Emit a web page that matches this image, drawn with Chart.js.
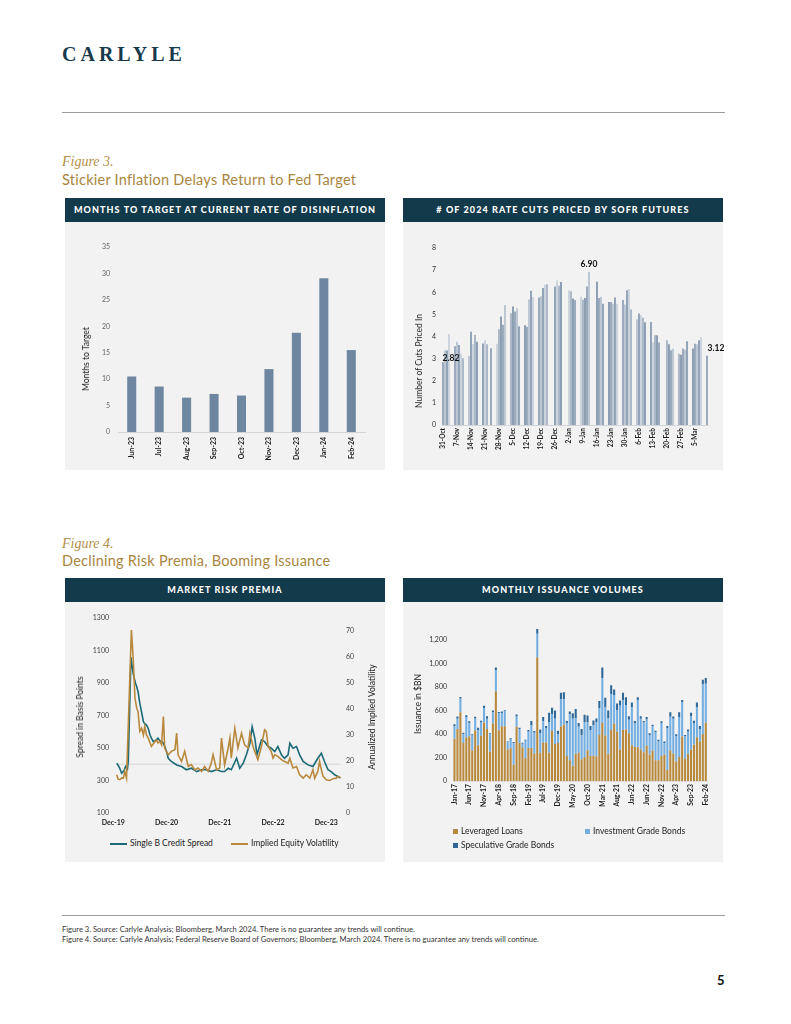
<!DOCTYPE html>
<html>
<head>
<meta charset="utf-8">
<script src="https://cdn.jsdelivr.net/npm/chart.js@4.4.1/dist/chart.umd.min.js"></script>
<style>
  body { margin: 0; background: #fff; font-family: Lato, sans-serif; }
  #page { position: relative; width: 791px; height: 1024px; overflow: hidden; }
  .abs { position: absolute; white-space: nowrap; }
  .logo { left: 62px; top: 44px; font-family: 'Liberation Serif', serif; font-weight: bold; font-size: 20px; line-height: 20px; letter-spacing: 4px; color: #173a4d; }
  .rule { left: 62px; width: 663px; height: 1px; background: #9c9c9c; }
  .fig { left: 62px; font-family: 'Liberation Serif', serif; font-style: italic; font-size: 14px; line-height: 14px; color: #b39048; }
  .figtitle { left: 62px; font-size: 14.5px; line-height: 15px; letter-spacing: 0.25px; color: #a9853e; }
  .panel { background: #f2f2f2; }
  .head { background: #123a4b; color: #fff; font-weight: 900; font-size: 9px; letter-spacing: 1.1px; text-align: center; line-height: 24px; height: 24px; }
  .ytitle { transform: translate(-50%, -50%) rotate(-90deg); font-size: 8.5px; color: #222; }
  .leg { font-size: 8.5px; color: #222; line-height: 10px; }
  .sw { display: inline-block; vertical-align: middle; margin-right: 3px; }
  canvas { position: absolute; }
  .note { left: 62px; font-size: 7.6px; color: #333; line-height: 9px; }
</style>
</head>
<body>
<div id="page">
  <div class="abs logo">CARLYLE</div>
  <div class="abs rule" style="top:112px"></div>

  <div class="abs fig" style="top:155px">Figure 3.</div>
  <div class="abs figtitle" style="top:172px">Stickier Inflation Delays Return to Fed Target</div>

  <div class="abs head" style="left:65px;top:198px;width:320px">MONTHS TO TARGET AT CURRENT RATE OF DISINFLATION</div>
  <div class="abs panel" style="left:65px;top:222px;width:320px;height:248px"></div>
  <div class="abs head" style="left:403px;top:198px;width:320px"># OF 2024 RATE CUTS PRICED BY SOFR FUTURES</div>
  <div class="abs panel" style="left:403px;top:222px;width:320px;height:248px"></div>

  <canvas id="c1" width="305" height="238" style="left:70px;top:230px;width:305px;height:238px"></canvas>
  <canvas id="c2" width="325" height="238" style="left:405px;top:230px;width:325px;height:238px"></canvas>
  <div class="abs ytitle" style="left:86px;top:359px">Months to Target</div>
  <div class="abs ytitle" style="left:419px;top:361px">Number of Cuts Priced In</div>

  <div class="abs fig" style="top:537px">Figure 4.</div>
  <div class="abs figtitle" style="top:553px">Declining Risk Premia, Booming Issuance</div>

  <div class="abs head" style="left:65px;top:578px;width:320px">MARKET RISK PREMIA</div>
  <div class="abs panel" style="left:65px;top:602px;width:320px;height:260px"></div>
  <div class="abs head" style="left:403px;top:578px;width:320px">MONTHLY ISSUANCE VOLUMES</div>
  <div class="abs panel" style="left:403px;top:602px;width:320px;height:260px"></div>

  <canvas id="c3" width="312" height="230" style="left:68px;top:606px;width:312px;height:230px"></canvas>
  <canvas id="c4" width="312" height="212" style="left:405px;top:606px;width:312px;height:212px"></canvas>
  <div class="abs ytitle" style="left:80px;top:717px">Spread in Basis Points</div>
  <div class="abs ytitle" style="left:372px;top:717px">Annualized Implied Volatility</div>
  <div class="abs ytitle" style="left:418px;top:704px">Issuance in $BN</div>

  <div class="abs leg" style="left:110px;top:838px"><span class="sw" style="width:17px;height:2px;background:#1b6a78"></span>Single B Credit Spread</div>
  <div class="abs leg" style="left:231px;top:838px"><span class="sw" style="width:17px;height:2px;background:#b8893c"></span>Implied Equity Volatility</div>
  <div class="abs leg" style="left:453px;top:826px"><span class="sw" style="width:5px;height:5px;background:#b8893c"></span>Leveraged Loans</div>
  <div class="abs leg" style="left:585px;top:826px"><span class="sw" style="width:5px;height:5px;background:#72aee2"></span>Investment Grade Bonds</div>
  <div class="abs leg" style="left:453px;top:840px"><span class="sw" style="width:5px;height:5px;background:#2f6898"></span>Speculative Grade Bonds</div>

  <div class="abs rule" style="top:915px"></div>
  <div class="abs note" style="top:925px">Figure 3. Source: Carlyle Analysis; Bloomberg, March 2024. There is no guarantee any trends will continue.</div>
  <div class="abs note" style="top:935px">Figure 4. Source: Carlyle Analysis; Federal Reserve Board of Governors; Bloomberg, March 2024. There is no guarantee any trends will continue.</div>
  <div class="abs" style="left:717px;top:972px;font-weight:bold;font-size:13px;color:#111">5</div>
</div>

<script>
// Figure 3 left: months to target
const targetMonths = ['Jun-23', 'Jul-23', 'Aug-23', 'Sep-23', 'Oct-23', 'Nov-23', 'Dec-23', 'Jan-24', 'Feb-24'];
const monthsToTarget = [10.5, 8.6, 6.5, 7.2, 6.9, 11.9, 18.8, 29.1, 15.5];

// Figure 3 right: daily cuts priced, one slot per calendar day from 31-Oct (null = no trading)
const sofrWeekLabels = ['31-Oct', '7-Nov', '14-Nov', '21-Nov', '28-Nov', '5-Dec', '12-Dec', '19-Dec', '26-Dec', '2-Jan',
  '9-Jan', '16-Jan', '23-Jan', '30-Jan', '6-Feb', '13-Feb', '20-Feb', '27-Feb', '5-Mar'];
const sofrCuts = [
  2.82, 3.35, 3.35, 4.10, null, null, 3.55,
  3.75, 3.60, 3.20, 3.00, null, null, 3.10,
  4.20, 3.65, 4.05, 3.75, null, null, 3.67,
  3.82, 3.63, null, 3.45, null, null, 3.66,
  4.31, 4.89, 4.52, 5.41, null, null, 5.04,
  5.34, 5.11, 5.25, 4.45, null, null, 4.49,
  4.43, 5.66, 6.05, 5.77, null, null, 5.75,
  5.80, 6.18, 6.32, 6.35, null, null, null,
  6.25, 6.52, 6.28, 6.45, null, null, null,
  6.08, 6.03, 5.70, 5.63, null, null, 5.78,
  5.65, 5.72, 6.25, 6.90, null, null, null,
  6.46, 5.73, 5.78, 5.46, null, null, 5.55,
  5.55, 5.47, 5.75, 5.47, null, null, 5.63,
  5.43, 6.08, 6.13, 5.20, null, null, 4.76,
  5.03, 4.95, 4.83, 4.63, null, null, 4.64,
  3.71, 4.04, 4.04, 3.71, null, null, null,
  3.82, 3.64, 3.36, 3.43, null, null, 3.21,
  3.16, 3.44, 3.39, 3.77, null, null, 3.44,
  3.66, 3.64, 3.82, 3.96, null, null, 3.12
];
const sofrLabelIdx = [0, 73, 132];

// Figure 4 left: months after Dec-19 and values
const riskTickMonths = [0, 12, 24, 36, 48];
const riskTickLabels = ['Dec-19', 'Dec-20', 'Dec-21', 'Dec-22', 'Dec-23'];
const spreadMonths = [0.8, 1.4, 1.9, 2.4, 2.8, 3.2, 3.4, 4.0, 4.5, 5.0, 5.3, 5.6, 6.0, 6.4, 6.8, 7.1, 7.5, 7.9,
  8.3, 8.6, 9.0, 9.5, 10.1, 10.5, 10.9, 11.3, 11.6, 12.0, 12.4, 13.1, 14.3, 15.4, 16.5, 17.6, 18.8, 19.9,
  21.0, 22.1, 23.3, 24.4, 25.1, 25.9, 26.6, 27.8, 28.5, 29.3, 30.0, 30.8, 31.3, 31.9, 32.4, 33.4, 34.1,
  34.9, 35.6, 36.4, 37.1, 37.9, 38.6, 39.4, 39.8, 40.5, 41.3, 42.0, 42.8, 43.9, 45.0, 46.1, 46.9, 47.6,
  48.4, 49.1, 49.9, 50.6, 51.2];
const singleBSpread = [406, 380, 345, 360, 386, 370, 420, 1060, 958, 900, 877, 846, 775, 720, 662, 650, 641, 620,
  580, 560, 540, 545, 560, 545, 540, 530, 509, 480, 437, 417, 396, 386, 366, 376, 355, 366,
  366, 355, 366, 355, 355, 375, 366, 437, 376, 407, 458, 529, 631, 560, 458, 550, 540,
  509, 499, 478, 509, 458, 437, 458, 529, 499, 509, 458, 417, 396, 386, 437, 468, 417,
  366, 355, 335, 325, 315];
const volMonths = [0.8, 1.1, 1.5, 1.9, 2.3, 2.6, 3.0, 3.4, 3.8, 4.1, 4.5, 4.9, 5.3, 5.6, 6.0, 6.4, 6.8, 7.1,
  7.5, 7.9, 8.3, 8.6, 9.0, 9.4, 9.8, 10.1, 10.5, 10.9, 11.3, 11.6, 12.0, 12.4, 13.1, 13.9, 14.3, 14.6,
  15.4, 16.1, 16.9, 17.6, 18.4, 19.1, 19.9, 20.6, 21.4, 22.1, 22.5, 23.3, 24.0, 24.4, 25.1, 25.9, 26.3,
  26.6, 27.4, 28.1, 28.9, 29.6, 30.4, 30.8, 31.5, 31.9, 32.6, 33.4, 34.1, 34.5, 34.9, 35.6, 36.0, 36.4,
  37.1, 37.9, 38.6, 39.4, 39.8, 40.5, 41.3, 42.0, 42.8, 43.5, 44.3, 45.0, 45.4, 46.1, 46.5, 46.9, 47.3,
  48.0, 48.8, 49.5, 50.3, 50.6, 51.2];
const equityVol = [14.7, 13.0, 12.8, 13.5, 13.4, 16.0, 13.4, 33.9, 55.0, 70.4, 59.5, 44.2, 40.3, 39.0, 31.4, 32.6, 30.0, 33.3,
  30.0, 28.8, 27.0, 25.6, 26.5, 27.5, 28.0, 26.9, 27.5, 26.2, 37.1, 25.0, 23.5, 22.4, 23.7, 24.3, 30.7, 22.4,
  19.8, 23.7, 17.9, 18.6, 16.6, 17.3, 16.0, 17.9, 16.0, 19.2, 22.4, 16.6, 17.3, 28.8, 18.5, 25.0, 28.8,
  21.1, 32.6, 25.0, 30.7, 26.2, 25.0, 30.7, 25.6, 23.7, 20.5, 25.6, 32.0, 31.4, 25.6, 23.7, 21.1, 22.4,
  21.8, 20.5, 19.8, 19.2, 21.1, 17.3, 17.9, 14.7, 13.4, 14.7, 13.4, 16.6, 13.4, 16.0, 19.8, 16.6, 14.1,
  12.8, 12.5, 13.2, 13.4, 14.1, 13.7];
const refMonths = [0.8, 51.2];
const refSpread = [400, 400];

// Figure 4 right: monthly issuance Jan-17 .. Feb-24 ($BN)
const issuanceTickLabels = ['Jan-17', 'Jun-17', 'Nov-17', 'Apr-18', 'Sep-18', 'Feb-19', 'Jul-19', 'Dec-19', 'May-20',
  'Oct-20', 'Mar-21', 'Aug-21', 'Jan-22', 'Jun-22', 'Nov-22', 'Apr-23', 'Sep-23', 'Feb-24'];
const leveragedLoans = [358, 441, 584, 322, 369, 377, 259, 432, 303, 385, 496, 441, 248, 488, 760, 432, 466, 466,
  267, 278, 138, 460, 322, 287, 193, 281, 281, 231, 1052, 240, 328, 328, 240, 424, 314, 322, 463, 479,
  212, 176, 129, 231, 240, 185, 204, 262, 212, 215, 210, 391, 493, 386, 231, 433, 488, 419, 267, 433,
  438, 405, 303, 289, 287, 267, 245, 300, 226, 259, 176, 176, 212, 226, 94, 262, 231, 165, 204, 377,
  190, 231, 267, 309, 372, 336, 400, 495];
const investmentGrade = [110, 88, 116, 75, 174, 113, 127, 100, 130, 116, 121, 88, 149, 96, 182, 146, 112, 124,
  63, 75, 182, 88, 119, 30, 149, 138, 193, 179, 199, 165, 179, 118, 261, 146, 215, 75, 231, 215,
  276, 394, 400, 303, 220, 206, 297, 234, 221, 259, 291, 226, 379, 239, 303, 303, 239, 179, 372, 253,
  207, 116, 322, 199, 402, 262, 251, 223, 165, 207, 237, 160, 281, 96, 352, 283, 298, 218, 339, 290,
  187, 188, 281, 179, 253, 105, 424, 332];
const speculativeGrade = [14, 19, 13, 13, 16, 17, 11, 13, 19, 11, 22, 22, 8, 14, 22, 9, 12, 11,
  6, 11, 11, 17, 11, 8, 8, 14, 36, 14, 41, 33, 36, 22, 78, 53, 69, 30, 55, 61,
  22, 20, 47, 78, 33, 50, 61, 60, 35, 41, 31, 63, 92, 83, 64, 77, 50, 60, 44, 63,
  66, 30, 42, 22, 22, 22, 14, 20, 14, 11, 14, 14, 14, 14, 22, 39, 19, 14, 41, 22,
  14, 19, 31, 24, 42, 27, 36, 49];

const font = 'Lato';
const sofrShades = ['#8a9cb2', '#b3bfcd', '#8195ad', '#c5ced9', '#9eadbf', '#7b8fa7'];

Chart.defaults.font.family = font;
Chart.defaults.animation = false;
Chart.defaults.responsive = false;
Chart.defaults.plugins.legend.display = false;
Chart.defaults.plugins.tooltip.enabled = false;

const noGrid = { display: false, drawTicks: false };

// Months to target
new Chart(document.getElementById('c1'), {
  type: 'bar',
  data: {
    labels: targetMonths,
    datasets: [{
      data: monthsToTarget,
      backgroundColor: '#6e86a0',
      barPercentage: 0.33,
      categoryPercentage: 1
    }]
  },
  options: {
    layout: { padding: { top: 17, right: 10, left: 0, bottom: 0 } },
    scales: {
      x: {
        grid: noGrid,
        border: { color: '#d4d4d4' },
        ticks: { autoSkip: false, minRotation: 90, maxRotation: 90, padding: 5, color: '#222',
          font: { size: 7, weight: 'bold' } },
        afterFit: s => { s.height = 36; }
      },
      y: {
        min: 0, max: 35,
        grid: noGrid,
        border: { display: false },
        ticks: { stepSize: 5, padding: 8, color: '#666', font: { size: 7 } },
        afterFit: s => { s.width = 48; }
      }
    }
  }
});

// Labels for chosen SOFR bars
const sofrLabelPlugin = {
  id: 'sofrLabels',
  afterDatasetsDraw(chart) {
    const meta = chart.getDatasetMeta(0);
    const ctx = chart.ctx;
    const dx = [8, 0, 9], dy = [0, 4, 3];
    ctx.save();
    ctx.font = 'bold 8.5px ' + font;
    ctx.fillStyle = '#111';
    ctx.textAlign = 'center';
    ctx.textBaseline = 'bottom';
    sofrLabelIdx.forEach((idx, k) => {
      const bar = meta.data[idx];
      ctx.fillText(sofrCuts[idx].toFixed(2), bar.x + dx[k], bar.y - dy[k]);
    });
    ctx.restore();
  }
};

new Chart(document.getElementById('c2'), {
  type: 'bar',
  data: {
    labels: sofrCuts.map((v, i) => i),
    datasets: [{
      data: sofrCuts,
      backgroundColor: c => sofrShades[c.dataIndex % sofrShades.length],
      barThickness: 1
    }]
  },
  options: {
    layout: { padding: { top: 18, right: 22, left: 0, bottom: 0 } },
    scales: {
      x: {
        grid: noGrid,
        border: { color: '#d4d4d4' },
        ticks: {
          autoSkip: false, minRotation: 90, maxRotation: 90, padding: 3, color: '#222',
          font: { size: 6.5, weight: 'bold' },
          callback: (v, i) => (i % 7 === 0 ? sofrWeekLabels[i / 7] : '')
        },
        afterFit: s => { s.height = 43; }
      },
      y: {
        min: 0, max: 8,
        grid: noGrid,
        border: { display: false },
        ticks: { stepSize: 1, padding: 6, color: '#333', font: { size: 7 } },
        afterFit: s => { s.width = 37; }
      }
    }
  },
  plugins: [sofrLabelPlugin]
});

// Market risk premia
const toPoints = (xs, ys) => xs.map((x, i) => ({ x: x, y: ys[i] }));
new Chart(document.getElementById('c3'), {
  type: 'line',
  data: {
    datasets: [
      { data: toPoints(refMonths, refSpread), yAxisID: 'y', borderColor: '#dedede', borderWidth: 1.5, pointRadius: 0, order: 3 },
      { data: toPoints(spreadMonths, singleBSpread), yAxisID: 'y', borderColor: '#1b6a78', borderWidth: 1.6, pointRadius: 0, order: 2 },
      { data: toPoints(volMonths, equityVol), yAxisID: 'y1', borderColor: '#b8893c', borderWidth: 1.6, pointRadius: 0, order: 1 }
    ]
  },
  options: {
    layout: { padding: { top: 12, right: 0, left: 0, bottom: 0 } },
    scales: {
      x: {
        type: 'linear', min: -0.5, max: 52,
        grid: noGrid,
        border: { display: false },
        afterBuildTicks: s => { s.ticks = riskTickMonths.map(v => ({ value: v })); },
        ticks: { autoSkip: false, maxRotation: 0, padding: 6, color: '#222', font: { size: 7, weight: 'bold' },
          callback: (v, i) => riskTickLabels[i] },
        afterFit: s => { s.height = 23; }
      },
      y: {
        position: 'left', min: 100, max: 1300,
        grid: noGrid,
        border: { display: false },
        ticks: { stepSize: 200, padding: 2, color: '#444', font: { size: 7 }, callback: v => String(v) },
        afterFit: s => { s.width = 43; }
      },
      y1: {
        position: 'right', min: 0, max: 75,
        grid: noGrid,
        border: { display: false },
        ticks: { stepSize: 10, includeBounds: false, padding: 2, color: '#444', font: { size: 7 } },
        afterFit: s => { s.width = 36; }
      }
    }
  }
});

// Monthly issuance volumes
new Chart(document.getElementById('c4'), {
  type: 'bar',
  data: {
    labels: leveragedLoans.map((v, i) => i),
    datasets: [
      { label: 'Leveraged Loans', data: leveragedLoans, backgroundColor: '#b8893c' },
      { label: 'Investment Grade Bonds', data: investmentGrade, backgroundColor: '#72aee2' },
      { label: 'Speculative Grade Bonds', data: speculativeGrade, backgroundColor: '#2f6898' }
    ]
  },
  options: {
    datasets: { bar: { barPercentage: 0.7, categoryPercentage: 1 } },
    layout: { padding: { top: 5, right: 8, left: 0, bottom: 0 } },
    scales: {
      x: {
        stacked: true,
        grid: noGrid,
        border: { color: '#dcdcdc' },
        ticks: {
          autoSkip: false, minRotation: 90, maxRotation: 90, padding: 3, color: '#222',
          font: { size: 6.8, weight: 'bold' },
          callback: (v, i) => (i % 5 === 0 ? issuanceTickLabels[i / 5] : '')
        },
        afterFit: s => { s.height = 37; }
      },
      y: {
        stacked: true, min: 0, max: 1400,
        grid: noGrid,
        border: { display: false },
        ticks: { stepSize: 200, padding: 6, color: '#333', font: { size: 7 },
          callback: v => (v < 1400 ? v.toLocaleString('en-US') : '') },
        afterFit: s => { s.width = 48; }
      }
    }
  }
});
</script>
</body>
</html>
